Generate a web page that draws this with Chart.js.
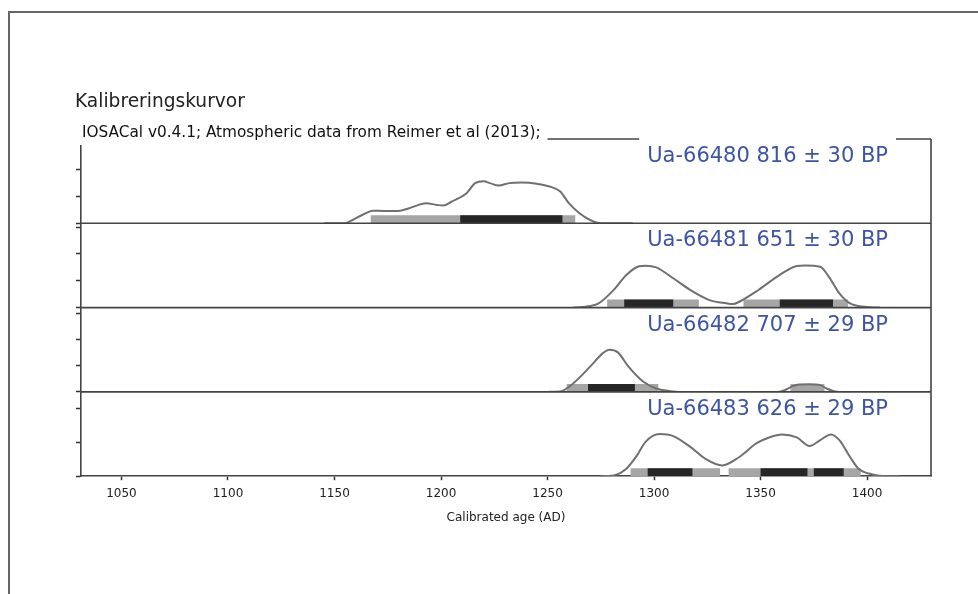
<!DOCTYPE html>
<html>
<head>
<meta charset="utf-8">
<script src="https://cdn.jsdelivr.net/npm/chart.js@4.4.0/dist/chart.umd.min.js"></script>
<style>
  html, body { margin: 0; padding: 0; background: #fff; }
  canvas { display: block; }
</style>
</head>
<body>
<canvas id="calChart" width="978" height="594"></canvas>
<script>
// sample labels, one per panel (top to bottom)
const sampleLabels = ['Ua-66480 816 \u00b1 30 BP', 'Ua-66481 651 \u00b1 30 BP', 'Ua-66482 707 \u00b1 29 BP', 'Ua-66483 626 \u00b1 29 BP'];

// x axis ticks (calendar years AD)
const yearTicks = [1050, 1100, 1150, 1200, 1250, 1300, 1350, 1400];

// calibrated probability, per mille per year
const years1 = [1145, 1155, 1157, 1163, 1168, 1173, 1180, 1185, 1193, 1198, 1201, 1205, 1212, 1216, 1220, 1223, 1227, 1232, 1238, 1245, 1251, 1256, 1260, 1265, 1270, 1275, 1290];
const prob1 = [0, 0, 0.3, 1.55, 2.36, 2.3, 2.3, 2.81, 3.75, 3.43, 3.3, 4.05, 5.62, 7.49, 7.86, 7.49, 7.04, 7.49, 7.6, 7.36, 6.86, 5.92, 3.75, 1.87, 0.62, 0, 0];

const years2 = [1262, 1270, 1274, 1281, 1287, 1293, 1296, 1301, 1309, 1317, 1326, 1334, 1337, 1340, 1349, 1359, 1367, 1371, 1378, 1382, 1387, 1392, 1399, 1406];
const prob2 = [0, 0.3, 0.79, 3.28, 6.09, 7.7, 7.8, 7.5, 5.47, 3.28, 1.4, 0.79, 0.66, 1.09, 3.28, 6.09, 7.75, 7.85, 7.6, 5.77, 2.66, 0.79, 0.15, 0];

const years3 = [1250, 1256, 1262, 1270, 1276, 1279, 1283, 1288, 1295, 1301, 1309, 1315, 1358, 1362, 1365, 1368, 1373, 1378, 1381, 1384, 1387, 1395];
const prob3 = [0, 0.2, 3.24, 9.65, 14.8, 16.1, 15.1, 9.65, 3.86, 1.31, 0.2, 0, 0, 0.93, 2.2, 2.86, 2.9, 2.59, 1.3, 0.4, 0, 0];

const years4 = [1275, 1282, 1287, 1292, 1296, 1302.5, 1309, 1317, 1324, 1332, 1340, 1348, 1356, 1360, 1367, 1373, 1378, 1383, 1387, 1392, 1396, 1402.5, 1409, 1415];
const prob4 = [0, 0.2, 1.11, 3.1, 5.1, 6.26, 5.96, 4.35, 2.61, 1.6, 2.85, 4.86, 5.96, 6.21, 5.76, 4.5, 5.36, 6.21, 5.36, 2.85, 1.11, 0.26, 0, 0];

// highest density ranges [from, to]
const hpd95_1 = [[1167, 1263]];
const hpd68_1 = [[1209, 1257]];
const hpd95_2 = [[1278, 1321], [1342, 1391]];
const hpd68_2 = [[1286, 1309], [1359, 1384]];
const hpd95_3 = [[1259, 1302], [1364, 1380]];
const hpd68_3 = [[1269, 1291]];
const hpd95_4 = [[1289, 1331], [1335, 1397]];
const hpd68_4 = [[1297, 1318], [1350, 1372], [1375, 1389]];

const panels = [
    { years: years1, prob: prob1, hpd95: hpd95_1, hpd68: hpd68_1, step: 5 },
    { years: years2, prob: prob2, hpd95: hpd95_2, hpd68: hpd68_2, step: 5 },
    { years: years3, prob: prob3, hpd95: hpd95_3, hpd68: hpd68_3, step: 10 },
    { years: years4, prob: prob4, hpd95: hpd95_4, hpd68: hpd68_4, step: 5 }
];
const panelIds = ['y1', 'y2', 'y3', 'y4'];

const PANEL_PX = 84;   // approx panel height, used to put the range bars at the bottom
const BAR_PX = 8;

function rangePoints(intervals, level) {
    var pts = [];
    intervals.forEach(function (iv, i) {
        if (i > 0) pts.push({ x: (intervals[i - 1][1] + iv[0]) / 2, y: null });
        pts.push({ x: iv[0], y: level }, { x: iv[1], y: level });
    });
    return pts;
}

var datasets = [];
var scales = {
    x: {
        type: 'linear',
        position: 'bottom',
        min: 1031,
        max: 1430,
        afterBuildTicks: function (axis) {
            axis.ticks = yearTicks.map(function (v) { return { value: v }; });
        },
        ticks: {
            color: '#222',
            font: { family: 'DejaVu Sans', size: 12 },
            maxRotation: 0,
            padding: 6,
            callback: function (value) { return String(value); }
        },
        grid: { drawOnChartArea: false, tickLength: 4, tickColor: '#333', tickWidth: 1.5 },
        border: { color: '#444', width: 1.6 },
        title: {
            display: true,
            text: 'Calibrated age (AD)',
            color: '#222',
            font: { family: 'DejaVu Sans', size: 12 },
            padding: { top: 4, bottom: 0 }
        }
    }
};

// stacked y scales: the scale added first ends up at the bottom, so go in reverse
for (var i = panels.length - 1; i >= 0; i--) {
    var p = panels[i];
    var ymax = 2 * Math.max.apply(null, p.prob);
    scales[panelIds[i]] = {
        type: 'linear',
        position: 'left',
        stack: 'panels',
        stackWeight: 1,
        min: 0,
        max: ymax,
        ticks: { display: false, stepSize: p.step, includeBounds: false },
        grid: { drawOnChartArea: false, tickLength: 5, tickColor: '#333', tickWidth: 1.5 },
        border: { color: '#444', width: 1.6 }
    };
}

panels.forEach(function (p, i) {
    var id = panelIds[i];
    var level = scales[id].max * (BAR_PX / 2) / PANEL_PX;
    datasets.push({
        label: 'p95 ' + i,
        yAxisID: id,
        data: rangePoints(p.hpd95, level),
        borderColor: '#a6a6a6',
        borderWidth: BAR_PX,
        pointRadius: 0,
        tension: 0,
        spanGaps: false,
        order: 3
    });
    datasets.push({
        label: 'p68 ' + i,
        yAxisID: id,
        data: rangePoints(p.hpd68, level),
        borderColor: '#262626',
        borderWidth: BAR_PX,
        pointRadius: 0,
        tension: 0,
        spanGaps: false,
        order: 2
    });
    datasets.push({
        label: sampleLabels[i],
        yAxisID: id,
        data: p.years.map(function (y, k) { return { x: y, y: p.prob[k] }; }),
        borderColor: '#707070',
        borderWidth: 2,
        pointRadius: 0,
        cubicInterpolationMode: 'monotone',
        order: 1
    });
});

var decor = {
    id: 'decor',
    afterDraw: function (chart) {
        var ctx = chart.ctx;
        var area = chart.chartArea;
        ctx.save();

        // panel borders (top / dividers / right)
        ctx.strokeStyle = '#444';
        ctx.lineWidth = 1.6;
        ctx.beginPath();
        panelIds.forEach(function (id) {
            var s = chart.scales[id];
            ctx.moveTo(area.left, s.top);
            ctx.lineTo(area.right, s.top);
        });
        ctx.moveTo(area.right, area.top);
        ctx.lineTo(area.right, area.bottom);
        ctx.stroke();

        // page frame
        ctx.strokeStyle = '#666';
        ctx.lineWidth = 2;
        ctx.beginPath();
        ctx.moveTo(9, 594);
        ctx.lineTo(9, 12);
        ctx.lineTo(978, 12);
        ctx.stroke();

        // heading
        ctx.fillStyle = '#222';
        ctx.font = '18.6px "DejaVu Sans"';
        ctx.textBaseline = 'alphabetic';
        ctx.textAlign = 'left';
        ctx.fillText('Kalibreringskurvor', 75, 107);

        // subtitle with white box
        ctx.font = '15.3px "DejaVu Sans"';
        var sub = 'IOSACal v0.4.1; Atmospheric data from Reimer et al (2013);';
        var sw = ctx.measureText(sub).width;
        ctx.fillStyle = '#fff';
        ctx.fillRect(75, 117, sw + 14, 28);
        ctx.fillStyle = '#111';
        ctx.fillText(sub, 82, 137);

        // sample labels
        ctx.font = '21px "DejaVu Sans"';
        ctx.textAlign = 'right';
        panelIds.forEach(function (id, i) {
            var s = chart.scales[id];
            var xr = area.right - 43;
            var yb = s.top + 23;
            if (i === 0) {
                var w = ctx.measureText(sampleLabels[i]).width;
                ctx.fillStyle = '#fff';
                ctx.fillRect(xr - w - 8, s.top - 6, w + 16, 12);
            }
            ctx.fillStyle = '#3d55a3';
            ctx.fillText(sampleLabels[i], xr, yb);
        });
        ctx.restore();
    }
};

new Chart(document.getElementById('calChart').getContext('2d'), {
    type: 'line',
    data: { datasets: datasets },
    options: {
        responsive: false,
        animation: false,
        events: [],
        layout: { padding: { left: 76, top: 139, right: 47, bottom: 69 } },
        scales: scales,
        plugins: {
            legend: { display: false },
            tooltip: { enabled: false }
        }
    },
    plugins: [decor]
});
</script>
</body>
</html>
